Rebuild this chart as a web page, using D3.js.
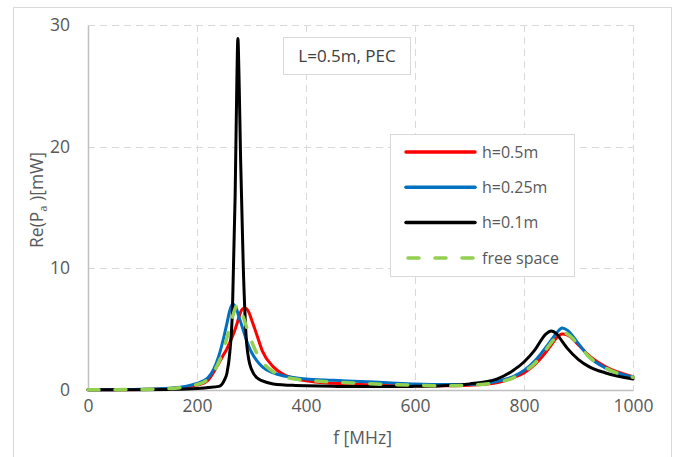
<!DOCTYPE html>
<html>
<head>
<meta charset="utf-8">
<script src="https://cdn.jsdelivr.net/npm/d3@7"></script>
<style>
    body { margin: 0; background: #fff; }
    svg { display: block; font-family: "Open Sans", sans-serif; }
</style>
</head>
<body>
<svg width="678" height="457"></svg>
<script>
"use strict";

// frequency samples [MHz], denser around the resonances
const freq = [0, 50, 100, 150, 200, 220, 240, 250, 255, 260, 265, 270, 273, 275, 277, 280, 285, 290, 295, 300,
    310, 320, 340, 360, 380, 400, 450, 500, 550, 600, 650, 700, 750, 780, 800, 820, 840, 850, 860, 870, 880,
    900, 920, 950, 1000];

// Re(Pa) [mW]
const h05 = [0.02, 0.03, 0.05, 0.12, 0.4, 0.8, 2.2, 3.0, 3.4, 3.9, 4.4, 5.0, 5.4, 5.7, 6.0, 6.4, 6.7, 6.7, 6.4, 5.8,
    4.5, 3.2, 1.9, 1.25, 0.95, 0.75, 0.55, 0.45, 0.4, 0.35, 0.35, 0.4, 0.6, 1.0, 1.4, 2.1, 3.1, 3.7, 4.3, 4.6, 4.5,
    3.7, 2.8, 1.9, 1.1];
const h025 = [0.02, 0.03, 0.06, 0.15, 0.55, 1.0, 2.8, 4.5, 5.5, 6.5, 7.05, 6.9, 6.6, 6.3, 6.0, 5.6, 4.9, 4.2, 3.6, 3.1,
    2.4, 1.9, 1.4, 1.15, 1.0, 0.9, 0.8, 0.7, 0.6, 0.5, 0.45, 0.45, 0.7, 1.1, 1.6, 2.4, 3.5, 4.1, 4.7, 5.1, 4.9,
    3.8, 2.7, 1.8, 1.05];
const h01 = [0.02, 0.02, 0.03, 0.05, 0.12, 0.2, 0.3, 0.8, 1.4, 3.0, 6.5, 16, 25, 28.9, 26, 19, 10, 4.5, 2.5, 1.7,
    1.0, 0.75, 0.5, 0.42, 0.38, 0.35, 0.3, 0.28, 0.28, 0.3, 0.35, 0.5, 0.9, 1.6, 2.3, 3.3, 4.6, 4.85, 4.6, 4.0, 3.4,
    2.5, 1.9, 1.4, 0.9];
const freeSpace = [0.02, 0.03, 0.05, 0.12, 0.45, 0.9, 2.3, 3.5, 4.3, 5.2, 6.0, 6.7, 6.95, 7.0, 6.9, 6.6, 6.0, 5.3, 4.6, 4.0,
    3.0, 2.3, 1.5, 1.1, 0.9, 0.8, 0.65, 0.55, 0.45, 0.4, 0.35, 0.4, 0.6, 1.0, 1.5, 2.2, 3.3, 3.9, 4.4, 4.7, 4.6,
    3.7, 2.7, 1.8, 1.05];

const seriesNames = ["h=0.5m", "h=0.25m", "h=0.1m", "free space"];
const seriesValues = [h05, h025, h01, freeSpace];
const seriesColors = ["#ff0000", "#0070c0", "#000000", "#92d050"];

const xTicks = [0, 200, 400, 600, 800, 1000];
const yTicks = [0, 10, 20, 30];

const svg = d3.select("svg"),
    plotLeft = 88,
    plotRight = 633,
    plotTop = 25,
    plotBottom = 390,
    x = d3.scaleLinear().domain([0, 1000]).range([plotLeft, plotRight]),
    y = d3.scaleLinear().domain([0, 30]).range([plotBottom, plotTop]);

// chart frame
svg.append("rect")
    .attr("x", 13.5).attr("y", 7.5)
    .attr("width", 658).attr("height", 470)
    .attr("fill", "#fff")
    .attr("stroke", "#d9d9d9");

// gridlines
svg.append("g").selectAll("line")
    .data(yTicks.filter(d => d > 0))
    .join("line")
    .attr("x1", plotLeft).attr("x2", plotRight)
    .attr("y1", d => Math.round(y(d)) + 0.5).attr("y2", d => Math.round(y(d)) + 0.5)
    .attr("stroke", "#d9d9d9")
    .attr("stroke-dasharray", "7,5");
svg.append("g").selectAll("line")
    .data(xTicks.filter(d => d > 0))
    .join("line")
    .attr("x1", d => Math.round(x(d)) + 0.5).attr("x2", d => Math.round(x(d)) + 0.5)
    .attr("y1", plotTop).attr("y2", plotBottom)
    .attr("stroke", "#d9d9d9")
    .attr("stroke-dasharray", "7,5");

// axes
const xAxis = svg.append("g")
    .attr("transform", `translate(0,${plotBottom})`)
    .call(d3.axisBottom(x).tickValues(xTicks).tickFormat(d3.format("d")).tickSize(0).tickPadding(10));
const yAxis = svg.append("g")
    .attr("transform", `translate(${plotLeft},0)`)
    .call(d3.axisLeft(y).tickValues(yTicks).tickFormat(d3.format("d")).tickSize(0).tickPadding(18));
[xAxis, yAxis].forEach(a => {
    a.select(".domain").attr("stroke", "#bfbfbf").attr("stroke-width", 1.5);
    a.selectAll("text")
        .attr("font-family", "Open Sans, sans-serif")
        .attr("font-size", 17.5)
        .attr("fill", "#595959");
});

// series
const line = d3.line()
    .x((d, i) => x(freq[i]))
    .y(d => y(d))
    .curve(d3.curveMonotoneX);

svg.append("g").selectAll("path")
    .data(seriesValues)
    .join("path")
    .attr("d", d => line(d))
    .attr("fill", "none")
    .attr("stroke", (d, i) => seriesColors[i])
    .attr("stroke-width", (d, i) => i === 3 ? 3.5 : 3)
    .attr("stroke-linecap", "round")
    .attr("stroke-linejoin", "round")
    .attr("stroke-dasharray", (d, i) => i === 3 ? "11,16" : null);

// axis titles
svg.append("text")
    .attr("x", (plotLeft + plotRight) / 2 + 2)
    .attr("y", 444)
    .attr("text-anchor", "middle")
    .attr("font-size", 17.5)
    .attr("fill", "#595959")
    .text("f [MHz]");

const yTitle = svg.append("text")
    .attr("transform", "translate(43,200) rotate(-90)")
    .attr("text-anchor", "middle")
    .attr("font-size", 17.5)
    .attr("fill", "#595959");
yTitle.append("tspan").text("Re(P");
yTitle.append("tspan").attr("font-size", 11).attr("dy", 4).text("a");
yTitle.append("tspan").attr("dy", -4).text(" )[mW]");

// title box
svg.append("rect")
    .attr("x", 283.5).attr("y", 37.5)
    .attr("width", 127).attr("height", 37)
    .attr("fill", "#fff")
    .attr("stroke", "#d9d9d9");
svg.append("text")
    .attr("x", 347).attr("y", 62)
    .attr("text-anchor", "middle")
    .attr("font-size", 17)
    .attr("fill", "#404040")
    .text("L=0.5m, PEC");

// legend
svg.append("rect")
    .attr("x", 390.5).attr("y", 134.5)
    .attr("width", 184).attr("height", 142)
    .attr("fill", "#fff")
    .attr("stroke", "#d9d9d9");
const legend = svg.append("g").selectAll("g")
    .data(seriesNames)
    .join("g")
    .attr("transform", (d, i) => `translate(0,${152 + i * 35.3})`);
legend.append("line")
    .attr("x1", (d, i) => i === 3 ? 408 : 406).attr("x2", (d, i) => i === 3 ? 473 : 475)
    .attr("stroke", (d, i) => seriesColors[i])
    .attr("stroke-width", 3.5)
    .attr("stroke-linecap", "round")
    .attr("stroke-dasharray", (d, i) => i === 3 ? "11,16" : null);
legend.append("text")
    .attr("x", 482).attr("dy", "0.35em")
    .attr("font-size", 16)
    .attr("fill", "#595959")
    .text(d => d);
</script>
</body>
</html>
